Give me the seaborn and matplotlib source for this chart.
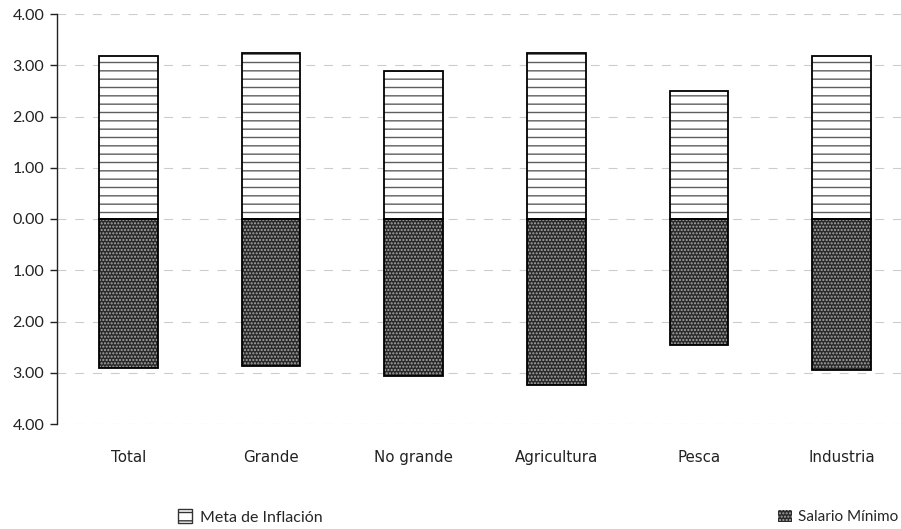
import matplotlib
matplotlib.use('Agg')
import matplotlib.pyplot as plt
from matplotlib.ticker import FuncFormatter, MultipleLocator
import seaborn as sns

categorias = ['Total', 'Grande', 'No grande', 'Agricultura', 'Pesca', 'Industria']
meta_inflacion = [3.18, 3.24, 2.89, 3.24, 2.50, 3.18]
salario_minimo = [-2.90, -2.87, -3.06, -3.24, -2.46, -2.94]

sns.set_style('white')
plt.rcParams['font.family'] = ['Lato', 'DejaVu Sans']
plt.rcParams['hatch.linewidth'] = 1.0

fig = plt.figure(figsize=(9.01, 5.29), dpi=100)
# axes runs a little past the right edge, like the original crop
ax = fig.add_axes([57 / 901, 1 - 424 / 529, 856 / 901, 410 / 529])

# grid first so bars sit on top
ax.set_axisbelow(True)
ax.yaxis.grid(True, color='#cccccc', linewidth=0.8, linestyle=(0, (8, 8)))

sns.barplot(x=categorias, y=meta_inflacion, color='white', width=0.41,
            saturation=1, errorbar=None, ax=ax)
sns.barplot(x=categorias, y=salario_minimo, color='#2a2a2a', width=0.41,
            saturation=1, errorbar=None, ax=ax)

# patterns
for p in ax.containers[0]:
    p.set_hatch('--')
    p.set_edgecolor('#5e5e5e')
    p.set_linewidth(0)
for p in ax.containers[1]:
    p.set_hatch('.....')
    p.set_edgecolor('#a8a8a8')
    p.set_linewidth(0)

# black outlines on top
sns.barplot(x=categorias, y=meta_inflacion, fill=False, color='black', width=0.41,
            linewidth=1.3, errorbar=None, ax=ax)
sns.barplot(x=categorias, y=salario_minimo, fill=False, color='black', width=0.41,
            linewidth=1.3, errorbar=None, ax=ax)

ax.set_ylim(-4, 4)
ax.set_xlim(-0.5, 5.5)
ax.yaxis.set_major_locator(MultipleLocator(1))
ax.yaxis.set_major_formatter(FuncFormatter(lambda v, pos: f'{abs(v):.2f}'))

for s in ['top', 'right', 'bottom']:
    ax.spines[s].set_visible(False)
ax.spines['left'].set_color('#222222')
ax.spines['left'].set_linewidth(1.0)

ax.tick_params(axis='y', left=True, length=5, width=1, color='#222222',
               labelsize=11.5, labelcolor='#222222', pad=4)
ax.tick_params(axis='x', bottom=False, pad=15)
for lab in ax.get_xticklabels():
    lab.set_fontfamily('DejaVu Sans')
    lab.set_fontsize(10.8)
    lab.set_color('#222222')

# legend, two separate entries far apart
leg1 = fig.legend(handles=[ax.containers[0][0]], labels=['Meta de Inflación'],
                  loc='center left', bbox_to_anchor=(178 / 901, 1 - 517 / 529),
                  frameon=False, fontsize=11.5, handlelength=0.9, handleheight=0.9,
                  handletextpad=0.5, borderpad=0, borderaxespad=0)
leg2 = fig.legend(handles=[ax.containers[1][0]], labels=['Salario Mínimo'],
                  loc='center left', bbox_to_anchor=(778 / 901, 1 - 517 / 529),
                  frameon=False, fontsize=11, handlelength=0.9, handleheight=0.9,
                  handletextpad=0.4, borderpad=0, borderaxespad=0)
h = leg1.legend_handles[0]
h.set_edgecolor('#333333')
h.set_linewidth(1.0)

ax.set_xlabel('')
ax.set_ylabel('')

plt.savefig('out.png', dpi=100)
